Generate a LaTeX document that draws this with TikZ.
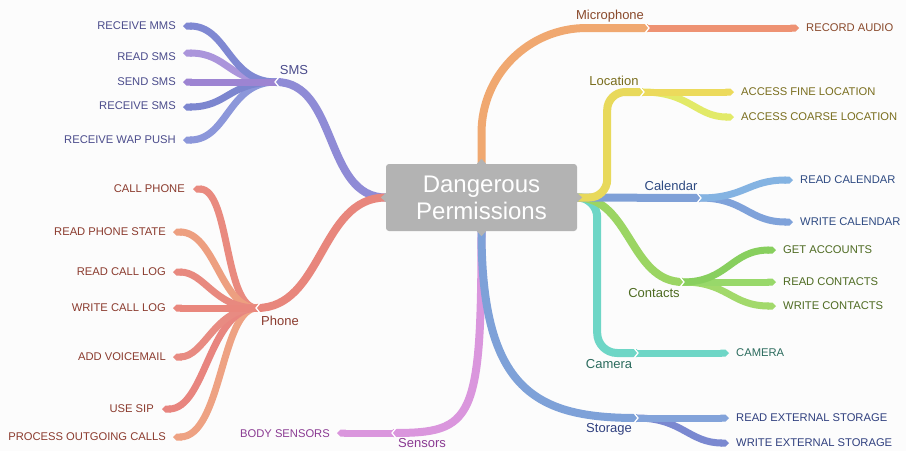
\documentclass[tikz,border=0pt]{standalone}
\usepackage{fontspec}
\setmainfont{Liberation Sans}
\usetikzlibrary{arrows.meta,calc}
\definecolor{bgc}{HTML}{FCFCFC}
\definecolor{boxc}{HTML}{B3B3B3}
\definecolor{smsM}{HTML}{8F8BD6}
\definecolor{smsA}{HTML}{7F88D2}
\definecolor{smsB}{HTML}{AB95DB}
\definecolor{smsC}{HTML}{9D84D2}
\definecolor{smsD}{HTML}{7C86CF}
\definecolor{smsE}{HTML}{8C97DA}
\definecolor{smsT}{HTML}{4B4C8C}
\definecolor{phM}{HTML}{E8867C}
\definecolor{phA}{HTML}{E98A7F}
\definecolor{phB}{HTML}{ED9F80}
\definecolor{phC}{HTML}{E8897F}
\definecolor{phD}{HTML}{E9877D}
\definecolor{phE}{HTML}{E88B82}
\definecolor{phF}{HTML}{E8857F}
\definecolor{phG}{HTML}{EEA283}
\definecolor{phT}{HTML}{8B3B2E}
\definecolor{micM}{HTML}{F0A870}
\definecolor{micA}{HTML}{EE9273}
\definecolor{micT}{HTML}{8A4A2C}
\definecolor{locM}{HTML}{E8D95B}
\definecolor{locA}{HTML}{ECDA5C}
\definecolor{locB}{HTML}{E2EA68}
\definecolor{locT}{HTML}{7A6E1E}
\definecolor{calM}{HTML}{7FA0D7}
\definecolor{calA}{HTML}{84B3E2}
\definecolor{calB}{HTML}{7FA2DA}
\definecolor{calT}{HTML}{2E4A82}
\definecolor{conM}{HTML}{9BD563}
\definecolor{conA}{HTML}{88CF5E}
\definecolor{conB}{HTML}{98D86A}
\definecolor{conC}{HTML}{A2D96B}
\definecolor{conT}{HTML}{4E6B22}
\definecolor{camM}{HTML}{6ED6C6}
\definecolor{camT}{HTML}{2B6B5D}
\definecolor{stoM}{HTML}{7EA1D8}
\definecolor{stoA}{HTML}{83A3DA}
\definecolor{stoB}{HTML}{7A88D0}
\definecolor{stoT}{HTML}{30407F}
\definecolor{senM}{HTML}{DA96DD}
\definecolor{senT}{HTML}{8A3A92}
\tikzset{
  branch/.style={line width=8pt},
  leafline/.style={line width=7pt,-{Triangle Cap[]}},
  lt/.style={font=\fontsize{11.2}{13}\selectfont, inner sep=0pt},
  gl/.style={font=\fontsize{13}{15}\selectfont, inner sep=0pt},
  notchline/.style={white, line width=1.3pt},
}
\begin{document}
\begin{tikzpicture}[x=1pt,y=-1pt]
\useasboundingbox (0,0) rectangle (906,451);
\fill[bgc] (0,0) rectangle (906,451);

% centre
\node[fill=boxc, rounded corners=3pt, minimum width=191pt, minimum height=67pt,
      text=white, align=center, font=\fontsize{24}{27}\selectfont] (C) at (481.5,197.5) {Dangerous\\Permissions};

% junctions
\coordinate (smsJ) at (276,82);
\coordinate (phJ) at (257,308);
\coordinate (micJ) at (648,28);
\coordinate (locJ) at (643,92);
\coordinate (calJ) at (700,198);
\coordinate (conJ) at (683,282);
\coordinate (camJ) at (637,353);
\coordinate (stoJ) at (637,418);
\coordinate (senJ) at (393,433);

% leaf ends
\coordinate (eRMMS) at (183,26);
\coordinate (eRSMS) at (183,53);
\coordinate (eSSMS) at (183,82);
\coordinate (eRCSMS) at (183,107);
\coordinate (eWAP) at (183,140);
\coordinate (eCALL) at (193,189);
\coordinate (eRPS) at (173,232);
\coordinate (eRCL) at (173,272);
\coordinate (eWCL) at (173,308);
\coordinate (eAVM) at (173,357);
\coordinate (eSIP) at (162,409);
\coordinate (ePOC) at (173,437);
\coordinate (eREC) at (799,28);
\coordinate (eFINE) at (734,92);
\coordinate (eCOARSE) at (734,117);
\coordinate (eRCAL) at (793,180);
\coordinate (eWCAL) at (793,222);
\coordinate (eGACC) at (776,250);
\coordinate (eRCON) at (776,282);
\coordinate (eWCON) at (776,306);
\coordinate (eCAM) at (729,353);
\coordinate (eREXT) at (729,418);
\coordinate (eWEXT) at (729,443);
\coordinate (eBODY) at (337,433);

% main branches
\draw[branch, senM] (C.south) .. controls +(0,190) and ($(senJ)+(80,0)$) .. (senJ);
\draw[branch, stoM] (C.south) .. controls +(0,160) and ($(stoJ)+(-100,0)$) .. (stoJ);
\draw[branch, smsM] (C.west) .. controls +(-62,0) and ($(smsJ)+(62,0)$) .. (smsJ);
\draw[branch, phM] (C.west) .. controls +(-66,0) and ($(phJ)+(66,0)$) .. (phJ);
\draw[branch, micM, rounded corners=105pt] (C.north) |- (micJ);
\draw[branch, camM, rounded corners=20pt] (C.east) -- ++(20,0) |- (camJ);
\draw[branch, conM] (C.east) .. controls +(53,0) and ($(conJ)+(-53,0)$) .. (conJ);
\draw[branch, calM] (C.east) -- (calJ);
\draw[branch, locM, rounded corners=18pt] (C.east) -- ++(30,0) |- (locJ);

% SMS leaves
\draw[leafline, smsE] (smsJ) .. controls ($(smsJ)+(-48,0)$) and ($(eWAP)+(45,0)$) .. (eWAP);
\draw[leafline, smsD] (smsJ) .. controls ($(smsJ)+(-48,0)$) and ($(eRCSMS)+(45,0)$) .. (eRCSMS);
\draw[leafline, smsB] (smsJ) .. controls ($(smsJ)+(-48,0)$) and ($(eRSMS)+(45,0)$) .. (eRSMS);
\draw[leafline, smsA] (smsJ) .. controls ($(smsJ)+(-48,0)$) and ($(eRMMS)+(45,0)$) .. (eRMMS);
\draw[leafline, smsC] (smsJ) -- (eSSMS);

% Phone leaves
\draw[leafline, phG] (phJ) .. controls ($(phJ)+(-36,0)$) and ($(ePOC)+(49,0)$) .. (ePOC);
\draw[leafline, phF] (phJ) .. controls ($(phJ)+(-48,0)$) and ($(eSIP)+(44,0)$) .. (eSIP);
\draw[leafline, phE] (phJ) .. controls ($(phJ)+(-43,0)$) and ($(eAVM)+(32,0)$) .. (eAVM);
\draw[leafline, phA] (phJ) .. controls ($(phJ)+(-33,0)$) and ($(eCALL)+(37,0)$) .. (eCALL);
\draw[leafline, phB] (phJ) .. controls ($(phJ)+(-36,0)$) and ($(eRPS)+(42,0)$) .. (eRPS);
\draw[leafline, phC] (phJ) .. controls ($(phJ)+(-43,0)$) and ($(eRCL)+(32,0)$) .. (eRCL);
\draw[leafline, phD] (phJ) -- (eWCL);

% right leaves
\draw[leafline, micA] (micJ) -- (eREC);
\draw[leafline, locB] (locJ) .. controls ($(locJ)+(47,0)$) and ($(eCOARSE)+(-38,0)$) .. (eCOARSE);
\draw[leafline, locA] (locJ) -- (eFINE);
\draw[leafline, calB] (calJ) .. controls ($(calJ)+(45,0)$) and ($(eWCAL)+(-45,0)$) .. (eWCAL);
\draw[leafline, calA] (calJ) .. controls ($(calJ)+(45,0)$) and ($(eRCAL)+(-45,0)$) .. (eRCAL);
\draw[leafline, conC] (conJ) .. controls ($(conJ)+(45,0)$) and ($(eWCON)+(-45,0)$) .. (eWCON);
\draw[leafline, conB] (conJ) -- (eRCON);
\draw[leafline, conA] (conJ) .. controls ($(conJ)+(45,0)$) and ($(eGACC)+(-45,0)$) .. (eGACC);
\draw[leafline, camM] (camJ) -- (eCAM);
\draw[leafline, stoB] (stoJ) .. controls ($(stoJ)+(45,0)$) and ($(eWEXT)+(-40,0)$) .. (eWEXT);
\draw[leafline, stoA] (stoJ) -- (eREXT);
\draw[leafline, senM] (senJ) -- (eBODY);

% junction notches
\foreach \j in {smsJ,phJ,senJ}{
  \draw[notchline] ($(\j)+(3,-5)$) -- ($(\j)+(-1,0)$) -- ($(\j)+(3,5)$);
}
\foreach \j in {micJ,locJ,calJ,conJ,camJ,stoJ}{
  \draw[notchline] ($(\j)+(-3,-5)$) -- ($(\j)+(1,0)$) -- ($(\j)+(-3,5)$);
}

% box notches
\fill[boxc] ($(C.north)+(-5,0.5)$) -- ($(C.north)+(0,-5)$) -- ($(C.north)+(5,0.5)$) -- cycle;
\fill[boxc] ($(C.south)+(-5,-0.5)$) -- ($(C.south)+(0,5)$) -- ($(C.south)+(5,-0.5)$) -- cycle;
\fill[boxc] ($(C.west)+(0.5,-5)$) -- ($(C.west)+(-5,0)$) -- ($(C.west)+(0.5,5)$) -- cycle;
\fill[boxc] ($(C.east)+(-0.5,-5)$) -- ($(C.east)+(5,0)$) -- ($(C.east)+(-0.5,5)$) -- cycle;

% leaf labels left
\node[lt, smsT, anchor=east] (tRMMS) at (176,26) {RECEIVE MMS};
\node[lt, smsT, anchor=east] (tRSMS) at (176,57) {READ SMS};
\node[lt, smsT, anchor=east] (tSSMS) at (176,82) {SEND SMS};
\node[lt, smsT, anchor=east] (tRCSMS) at (176,106) {RECEIVE SMS};
\node[lt, smsT, anchor=east] (tWAP) at (176,140) {RECEIVE WAP PUSH};
\node[lt, phT, anchor=east] (tCALL) at (185,189) {CALL PHONE};
\node[lt, phT, anchor=east] (tRPS) at (166,232) {READ PHONE STATE};
\node[lt, phT, anchor=east] (tRCL) at (166,272) {READ CALL LOG};
\node[lt, phT, anchor=east] (tWCL) at (166,308) {WRITE CALL LOG};
\node[lt, phT, anchor=east] (tAVM) at (166,357) {ADD VOICEMAIL};
\node[lt, phT, anchor=east] (tSIP) at (154,409) {USE SIP};
\node[lt, phT, anchor=east] (tPOC) at (166,437) {PROCESS OUTGOING CALLS};
\node[lt, senT, anchor=east] (tBODY) at (330,434) {BODY SENSORS};

% leaf labels right
\node[lt, micT, anchor=west] (tREC) at (806,28) {RECORD AUDIO};
\node[lt, locT, anchor=west] (tFINE) at (741,92) {ACCESS FINE LOCATION};
\node[lt, locT, anchor=west] (tCOARSE) at (741,117) {ACCESS COARSE LOCATION};
\node[lt, calT, anchor=west] (tRCAL) at (800,180) {READ CALENDAR};
\node[lt, calT, anchor=west] (tWCAL) at (800,222) {WRITE CALENDAR};
\node[lt, conT, anchor=west] (tGACC) at (783,250) {GET ACCOUNTS};
\node[lt, conT, anchor=west] (tRCON) at (783,282) {READ CONTACTS};
\node[lt, conT, anchor=west] (tWCON) at (783,306) {WRITE CONTACTS};
\node[lt, camT, anchor=west] (tCAM) at (736,353) {CAMERA};
\node[lt, stoT, anchor=west] (tREXT) at (736,418) {READ EXTERNAL STORAGE};
\node[lt, stoT, anchor=west] (tWEXT) at (736,443) {WRITE EXTERNAL STORAGE};

% group labels
\node[gl, smsT] (gSMS) at (294,70) {SMS};
\node[gl, phT] (gPH) at (280,321) {Phone};
\node[gl, micT] (gMIC) at (610,16) {Microphone};
\node[gl, locT] (gLOC) at (614,81) {Location};
\node[gl, calT] (gCAL) at (671,186) {Calendar};
\node[gl, conT] (gCON) at (654,293) {Contacts};
\node[gl, camT] (gCAM) at (609,364) {Camera};
\node[gl, stoT] (gSTO) at (609,429) {Storage};
\node[gl, senT] (gSEN) at (422,443) {Sensors};
\end{tikzpicture}
\end{document}
